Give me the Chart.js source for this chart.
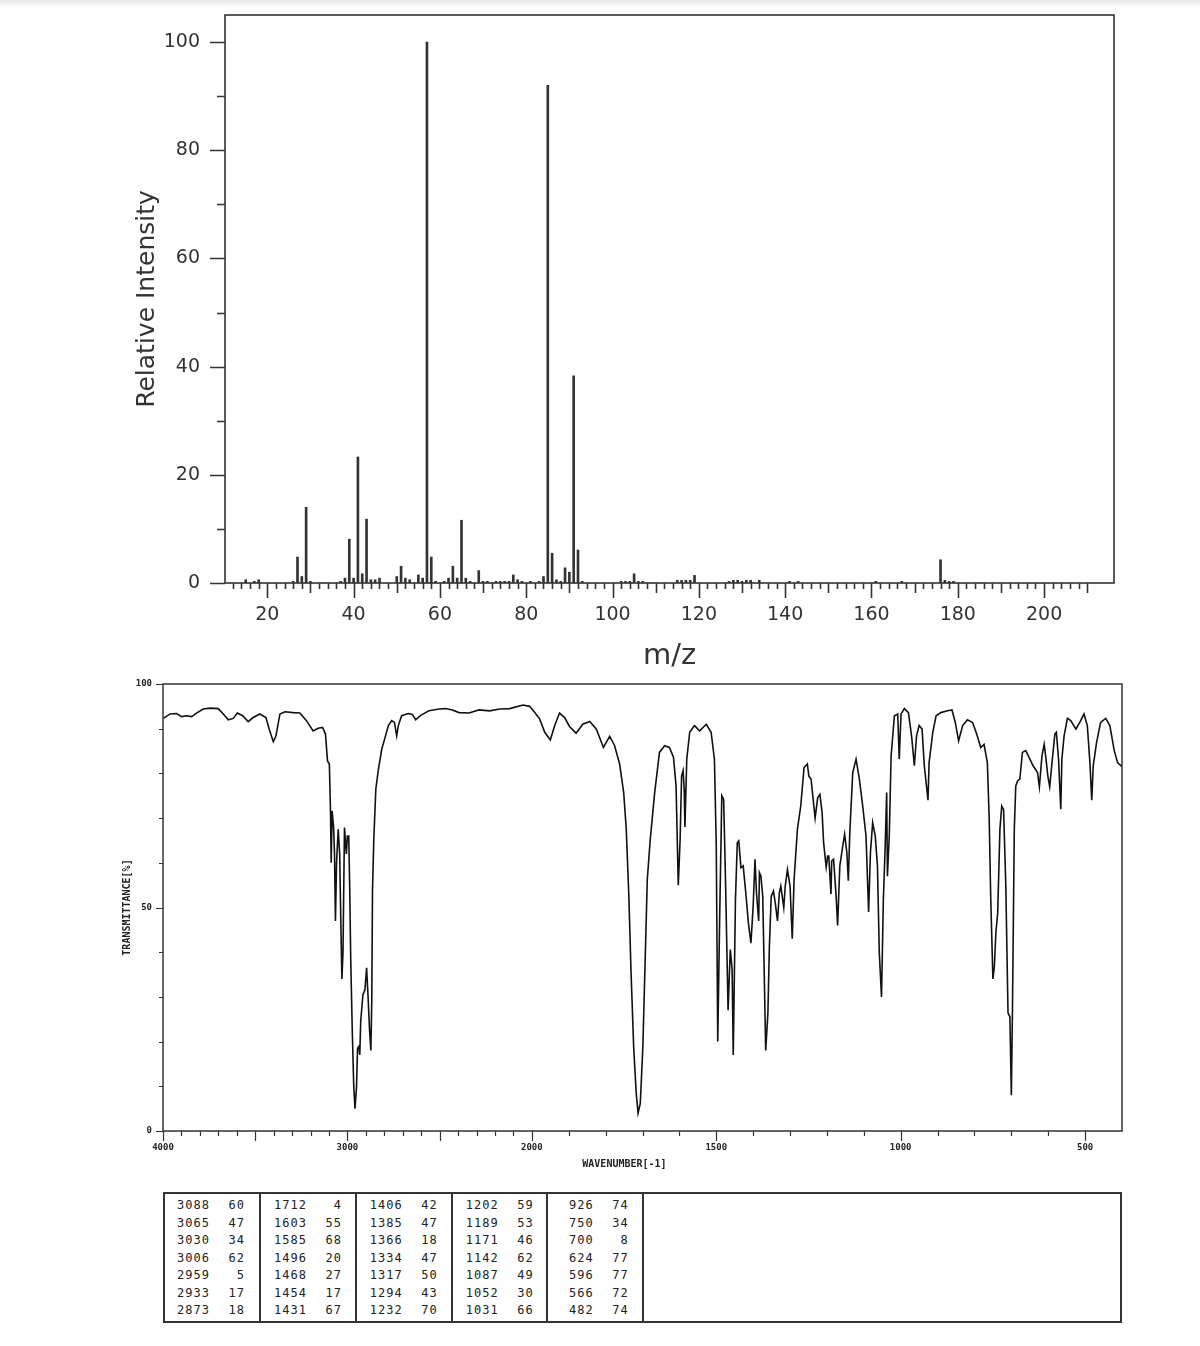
<!DOCTYPE html>
<html><head><meta charset="utf-8">
<script src="https://cdn.jsdelivr.net/npm/chart.js@4.4.0/dist/chart.umd.min.js"></script>
<style>
html,body{margin:0;padding:0;background:#fff;}
body{width:1200px;height:1346px;position:relative;overflow:hidden;}
#band{position:absolute;left:0;top:0;width:1200px;height:8px;background:linear-gradient(#e9e9e9,#fff);}
#ms{position:absolute;left:0;top:0;width:1200px;height:680px;}
#ir{position:absolute;left:0;top:675px;width:1200px;height:500px;}
#tbl{position:absolute;left:163px;top:1192px;width:959px;height:131px;box-sizing:border-box;border:2px solid #333;}
.sep{position:absolute;top:0;bottom:0;width:0;border-left:2px solid #333;}
.cell{position:absolute;width:60px;font-family:'DejaVu Sans Mono',monospace;font-size:12px;letter-spacing:1px;color:#222;text-align:right;line-height:14px;}
</style></head><body>
<div id="band"></div>
<canvas id="ms" width="1200" height="680"></canvas>
<canvas id="ir" width="1200" height="500"></canvas>
<div id="tbl"></div>
<script>
// ---------- Mass spectrum data ----------
const msMz = [15,17,18,26,27,28,29,30,37,38,39,40,41,42,43,44,45,46,50,51,52,53,55,56,57,58,59,61,62,63,64,65,66,67,69,70,71,73,74,75,76,77,78,79,81,83,84,85,86,87,88,89,90,91,92,93,102,103,104,105,106,107,115,116,117,118,119,127,128,129,130,131,132,134,141,143,161,167,176,177,178,179];
const msIntensity = [0.6,0.3,0.6,0.3,4.8,1.2,14.0,0.3,0.3,0.9,8.1,0.9,23.3,1.7,11.8,0.6,0.6,0.9,1.2,3.1,0.9,0.6,1.5,0.9,100,4.8,0.3,0.3,0.9,3.1,0.9,11.6,0.9,0.3,2.3,0.3,0.3,0.3,0.3,0.3,0.3,1.5,0.6,0.3,0.3,0.3,1.2,92,5.5,0.6,0.3,2.8,2.0,38.3,6.1,0.3,0.3,0.3,0.3,1.7,0.3,0.3,0.5,0.5,0.5,0.5,1.4,0.3,0.5,0.5,0.3,0.5,0.5,0.5,0.3,0.3,0.3,0.3,4.3,0.5,0.3,0.3];
const msXTickLabels = [20,40,60,80,100,120,140,160,180,200];
const msYTickLabels = [0,20,40,60,80,100];

// ---------- IR spectrum data ----------
const irWavenumber = [3998,3962,3926,3899,3872,3845,3818,3782,3745,3700,3673,3646,3619,3597,3568,3538,3511,3475,3442,3424,3402,3388,3366,3339,3294,3258,3222,3186,3159,3135,3119,3108,3098,3092,3088,3083,3075,3070,3065,3059,3050,3042,3035,3030,3024,3016,3011,3006,3000,2993,2988,2982,2974,2966,2959,2951,2945,2938,2933,2928,2916,2905,2896,2888,2880,2873,2868,2864,2857,2846,2832,2814,2796,2778,2760,2745,2733,2724,2706,2670,2648,2630,2603,2558,2503,2467,2431,2395,2341,2287,2229,2174,2120,2048,2012,1992,1979,1965,1950,1938,1925,1911,1898,1880,1862,1843,1825,1806,1789,1776,1762,1751,1744,1737,1731,1724,1717,1712,1706,1699,1693,1687,1679,1667,1654,1640,1627,1616,1609,1603,1598,1594,1590,1587,1585,1580,1572,1559,1545,1527,1514,1505,1500,1496,1491,1485,1480,1475,1468,1462,1457,1454,1448,1443,1439,1433,1427,1420,1413,1406,1400,1395,1391,1385,1383,1379,1374,1370,1366,1360,1356,1351,1345,1340,1334,1329,1325,1317,1313,1307,1300,1294,1289,1280,1271,1262,1253,1249,1243,1232,1225,1219,1213,1209,1202,1198,1195,1189,1187,1182,1175,1171,1165,1157,1152,1146,1142,1138,1130,1121,1112,1103,1094,1087,1082,1076,1069,1063,1058,1052,1047,1042,1038,1036,1031,1026,1017,1008,1004,999,990,979,970,963,957,950,942,936,926,923,913,904,891,873,861,852,843,832,819,805,794,783,774,765,760,756,750,746,742,737,731,726,721,715,709,704,700,697,692,688,683,677,670,661,652,641,629,624,617,611,607,601,596,588,582,578,572,566,563,557,548,539,525,512,503,494,487,482,478,469,458,444,433,421,412,400];
const irTransmittance = [92.3,93.3,93.4,92.7,92.9,92.7,93.5,94.4,94.6,94.5,93.3,92.0,92.3,93.5,92.9,91.6,92.5,93.3,92.5,89.9,87.1,88.3,93.3,93.8,93.6,93.5,91.8,89.5,90.1,90.3,88.8,82.8,82.1,72,60,71.6,68,62,47,60,67.5,62,45,34,40,67.9,65,62,66,66,55.5,38.3,23,10.3,5,9.6,18.5,18.9,17,24.5,30.5,31.6,36.5,30,22.6,18,29,54,65.2,76.5,80.9,85.4,88,90.7,91.8,91.4,88.4,90.7,92.9,93.4,93.2,92.0,93,94,94.4,94.5,94.2,93.6,93.5,94.2,94.0,94.4,94.5,95.3,95.0,93.6,92.2,89.2,87.5,90.7,93.5,92.5,90.5,89.0,91.0,91.6,89.9,85.8,88.3,86.3,82.1,75.7,67.5,52.5,35.4,18.9,8.4,4,6.2,18.9,37.6,56.3,65.2,75.7,84.7,86.2,85.8,83.6,77.2,55,65.2,79.4,80.6,76.5,68,83.2,89.2,90.7,89.5,91.0,89.2,83.2,63.8,20,46.6,75.0,74.2,56.3,27,40.6,36.1,17,51.8,64.5,64.9,58.9,59.3,53.3,46.6,42,50.3,60.8,53.3,47,57.8,57.0,52.5,35.4,18,26.4,41.3,52.5,53.7,51.0,47,53.3,54.8,50,54.8,58.5,54.8,43,56.3,67.5,72.7,81.3,82.1,79.4,78.7,70,74.6,75.3,71.2,64.5,59,61.5,61.5,53,60.4,60.8,52.5,46,59.3,63.8,66.4,62.3,56,66.7,80.2,83.2,78.7,72.7,66.0,49,62.3,69.0,66.0,59.3,39.8,30,51.8,63.8,75.7,57,66,83.9,92.9,93.3,83.2,93.3,94.5,93.6,88.0,81.7,88.4,90.7,89.9,81.7,74,82.4,89.2,92.9,93.6,94.0,94.2,91.4,87.3,90.7,92.0,91.4,88.8,85.8,86.5,82.4,69.7,52.5,34,36.8,44.3,48.8,67.5,72.7,71.9,54.8,26.4,25.6,8,27.1,67.5,77.2,78.3,78.7,84.7,85.1,83.6,81.7,80.2,77,83.9,86.5,83.9,79.4,77,83.9,88.8,89.2,83.2,72,83.2,88.4,92.3,91.8,89.9,91.8,93.3,90.7,82.4,74,81.7,86.9,91.4,92.3,90.7,85.1,82.4,81.5];
const irXTickLabels = [4000,3000,2000,1500,1000,500];
const irYTickLabels = [0,50,100];

// ---------- Peak table ----------
const peakWavenumber = [3088,3065,3030,3006,2959,2933,2873,1712,1603,1585,1496,1468,1454,1431,1406,1385,1366,1334,1317,1294,1232,1202,1189,1171,1142,1087,1052,1031,926,750,700,624,596,566,482];
const peakTransmittance = [60,47,34,62,5,17,18,4,55,68,20,27,17,67,42,47,18,47,50,43,70,59,53,46,62,49,30,66,74,34,8,77,77,72,74];

// ---------- helpers ----------
function range(a,b,s){const r=[];for(let v=a;v<=b+1e-9;v+=s)r.push(v);return r;}
function noPadV(s){ s.paddingTop = 0; s.paddingBottom = 0; }
function noPadH(s){ s.paddingLeft = 0; s.paddingRight = 0; }

const frameTicks = {
  id:'frameTicks',
  afterDraw(chart, args, opts){
    const ctx = chart.ctx, a = chart.chartArea;
    const xs = chart.scales.x, ys = chart.scales.y;
    ctx.save();
    ctx.strokeStyle = opts.color;
    ctx.lineWidth = opts.frameWidth;
    ctx.strokeRect(a.left, a.top, a.right - a.left, a.bottom - a.top);
    ctx.lineWidth = opts.tickWidth;
    ctx.beginPath();
    for (const g of opts.xTicks) for (const v of g.values) {
      const p = Math.round(xs.getPixelForValue(v)) + 0.5;
      ctx.moveTo(p, a.bottom); ctx.lineTo(p, a.bottom + g.len);
    }
    for (const g of opts.yTicks) for (const v of g.values) {
      const p = Math.round(ys.getPixelForValue(v)) + 0.5;
      ctx.moveTo(a.left, p); ctx.lineTo(a.left - g.len, p);
    }
    ctx.stroke();
    ctx.restore();
  }
};
Chart.register(frameTicks);

// piecewise wavenumber scale (x2 expansion below 2000 cm-1)
class WavenumberScale extends Chart.LinearScale {
  _u(v){ return v >= 2000 ? (4000 - v) / 500 : 4 + (2000 - v) / 250; }
  _w(u){ return u <= 4 ? 4000 - 500 * u : 2000 - 250 * (u - 4); }
  getPixelForValue(v){
    const u0 = this._u(this.max), u1 = this._u(this.min);
    return this.left + (this._u(v) - u0) / (u1 - u0) * this.width;
  }
  getValueForPixel(p){
    const u0 = this._u(this.max), u1 = this._u(this.min);
    return this._w(u0 + (p - this.left) / this.width * (u1 - u0));
  }
}
WavenumberScale.id = 'wavenumber';
WavenumberScale.defaults = {};
Chart.register(WavenumberScale);

const msText = '#333';
// ---------- Mass spectrum chart ----------
new Chart(document.getElementById('ms'), {
  type: 'bar',
  data: { datasets: [{
    data: msMz.map((m, i) => ({x: m, y: msIntensity[i]})),
    backgroundColor: '#333', borderWidth: 0, barThickness: 2
  }]},
  options: {
    responsive: false, animation: false, devicePixelRatio: 1,
    layout: { padding: { left: 0, top: 15, right: 86, bottom: 0 } },
    plugins: {
      legend: { display: false }, tooltip: { enabled: false },
      frameTicks: {
        color: '#333', frameWidth: 1.6, tickWidth: 1.6,
        xTicks: [
          { values: range(12, 210, 2), len: 6 },
          { values: range(30, 210, 20), len: 10 },
          { values: range(20, 200, 20), len: 15 }
        ],
        yTicks: [
          { values: range(10, 90, 20), len: 8 },
          { values: msYTickLabels, len: 15 }
        ]
      }
    },
    scales: {
      x: {
        type: 'linear', min: 10.2, max: 216.2, offset: false,
        grid: { display: false, drawTicks: false, offset: false }, border: { display: false },
        afterBuildTicks: s => { s.ticks = msXTickLabels.map(v => ({ value: v })); },
        afterFit: s => { s.height = 97; noPadH(s); },
        ticks: { autoSkip: false, maxRotation: 0, padding: 21, color: msText,
                 font: { family: 'DejaVu Sans', size: 19 }, callback: v => String(v) },
        title: { display: true, text: 'm/z', color: msText,
                 font: { family: 'DejaVu Sans', size: 29 }, padding: { top: 0, bottom: 6 } }
      },
      y: {
        min: 0, max: 105,
        grid: { display: false, drawTicks: false }, border: { display: false },
        afterBuildTicks: s => { s.ticks = msYTickLabels.map(v => ({ value: v })); },
        afterFit: s => { s.width = 225; noPadV(s); },
        ticks: { autoSkip: false, padding: 25, color: msText,
                 font: { family: 'DejaVu Sans', size: 19 }, callback: v => String(v) },
        title: { display: true, text: 'Relative Intensity', color: msText,
                 font: { family: 'DejaVu Sans', size: 25 }, padding: { top: 132, bottom: 0 } }
      }
    }
  }
});

// ---------- IR chart ----------
const irFont = { family: 'DejaVu Sans Mono', size: 9, weight: 'bold' };
new Chart(document.getElementById('ir'), {
  type: 'line',
  data: { datasets: [{
    data: irWavenumber.map((w, i) => ({x: w, y: irTransmittance[i]})),
    borderColor: '#111', borderWidth: 1.6, pointRadius: 0, tension: 0, fill: false
  }]},
  options: {
    responsive: false, animation: false, devicePixelRatio: 1,
    layout: { padding: { left: 0, top: 9, right: 78, bottom: 0 } },
    plugins: {
      legend: { display: false }, tooltip: { enabled: false },
      frameTicks: {
        color: '#333', frameWidth: 1.5, tickWidth: 1.2,
        xTicks: [
          { values: range(500, 4000, 100), len: 5 },
          { values: [4000,3500,3000,2500,2000,1500,1000,500], len: 10 }
        ],
        yTicks: [
          { values: range(0, 100, 10), len: 4 },
          { values: irYTickLabels, len: 7 }
        ]
      }
    },
    scales: {
      x: {
        type: 'wavenumber', min: 400, max: 4000,
        grid: { display: false, drawTicks: false }, border: { display: false },
        afterBuildTicks: s => { s.ticks = irXTickLabels.map(v => ({ value: v })); },
        afterFit: s => { s.height = 44; noPadH(s); },
        ticks: { autoSkip: false, maxRotation: 0, padding: 11, color: '#222', font: irFont,
                 callback: v => String(v) },
        title: { display: true, text: 'WAVENUMBER[-1]      ', color: '#222',
                 font: { family: 'DejaVu Sans Mono', size: 10, weight: 'bold' }, padding: { top: 0, bottom: 5 } }
      },
      y: {
        min: 0, max: 100,
        grid: { display: false, drawTicks: false }, border: { display: false },
        afterBuildTicks: s => { s.ticks = irYTickLabels.map(v => ({ value: v })); },
        afterFit: s => { s.width = 163; noPadV(s); },
        ticks: { autoSkip: false, padding: 11, color: '#222', font: irFont, callback: v => String(v) },
        title: { display: true, text: 'TRANSMITTANCE[%]', color: '#222',
                 font: { family: 'DejaVu Sans Mono', size: 10, weight: 'bold' }, padding: { top: 121, bottom: 0 } }
      }
    }
  }
});

// ---------- peak table ----------
(function(){
  const tbl = document.getElementById('tbl');
  const colLeft = [163, 260, 355.7, 451.7, 546.7];
  const seps = [260, 355.7, 451.7, 546.7, 643.3];
  const ox = 165, oy = 1194;
  seps.forEach(x => { const d = document.createElement('div'); d.className = 'sep'; d.style.left = (x - ox - 1) + 'px'; tbl.appendChild(d); });
  const rows = 7;
  peakWavenumber.forEach((w, i) => {
    const c = Math.floor(i / rows), r = i % rows;
    const cy = 1205 + 17.5 * r - oy;
    const mk = (txt, right) => {
      const d = document.createElement('div'); d.className = 'cell';
      d.textContent = txt; d.style.left = (right - ox - 60 + 1) + 'px'; d.style.top = (cy - 7) + 'px';
      tbl.appendChild(d);
    };
    mk(String(w), colLeft[c] + 46);
    mk(String(peakTransmittance[i]), colLeft[c] + 81);
  });
})();
</script>
</body></html>
